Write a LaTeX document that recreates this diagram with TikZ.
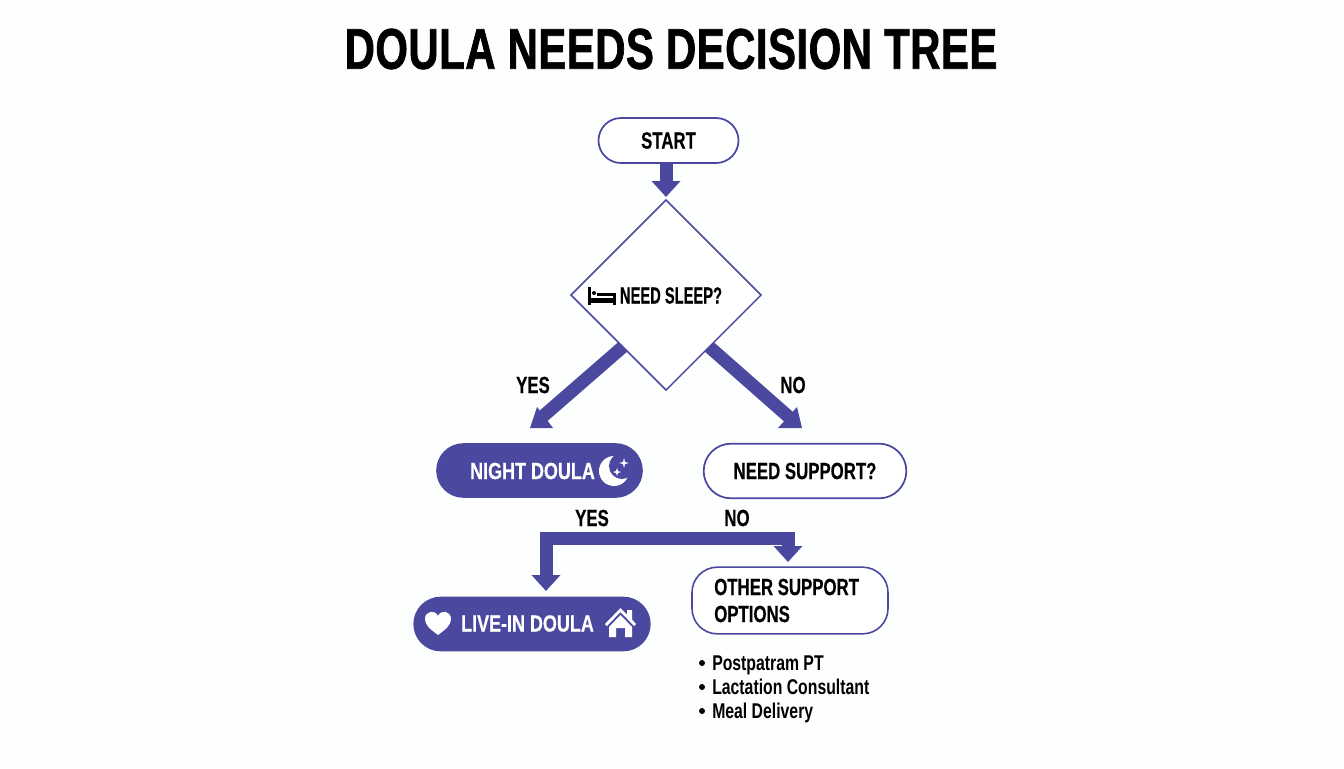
\documentclass[tikz,border=0pt]{standalone}
\usepackage{fontspec}
\usetikzlibrary{arrows.meta,backgrounds,shapes.geometric,shapes.misc}
\setmainfont{Liberation Sans}
\newfontfamily\titlebold[FakeStretch=0.73,FakeBold=1.2,LetterSpace=0.9]{Liberation Sans Bold}
\newfontfamily\narrowbold[FakeStretch=0.72,FakeBold=0.4]{Liberation Sans Bold}
\newfontfamily\slimbold[FakeStretch=0.63,FakeBold=0.4]{Liberation Sans Bold}
\newfontfamily\widebold[FakeStretch=0.77,FakeBold=0.4]{Liberation Sans Bold}
\newfontfamily\narrowlist[FakeStretch=0.74]{Liberation Sans Bold}
\definecolor{doulapurple}{RGB}{75,72,160}
\definecolor{pagewhite}{RGB}{253,254,254}
\tikzset{
  titletext/.style={font=\titlebold\fontsize{43}{48}\selectfont,text=black},
  flowtext/.style={font=\narrowbold\fontsize{17.5}{21}\selectfont,text=black},
  listtext/.style={anchor=base west,inner sep=0pt,font=\narrowlist\fontsize{16}{18}\selectfont},
  outlinepill/.style={rounded rectangle,draw=doulapurple,fill=white,line width=1.3pt,inner sep=0pt},
  filledpill/.style={rounded rectangle,fill=doulapurple,inner sep=0pt,text=white},
  flowarrow/.style={draw=doulapurple,line width=9.75pt,-{Triangle[width=21pt,length=12pt]}},
  flowbar/.style={draw=doulapurple,line width=9.75pt}
}
\begin{document}
\begin{tikzpicture}[x=0.75pt,y=-0.75pt]
\useasboundingbox (0,0) rectangle (1344,768);
\node[titletext] (title) at (671,49) {DOULA NEEDS DECISION TREE};
\begin{scope}[every node/.append style={flowtext}]
    \node[outlinepill,minimum width=105pt,minimum height=33.75pt] (start) at (668.5,140.5) {START};
    \node[diamond,draw=doulapurple,fill=white,line width=1.1pt,inner sep=0pt,minimum width=143pt,minimum height=143pt] (sleep) at (666,295) {};
    \node[font=\slimbold\fontsize{17.5}{21}\selectfont] (sleeplabel) at (671,295.5) {NEED SLEEP?};
    \node[filledpill,minimum width=155pt,minimum height=41pt] (night) at (539.5,470.5) {};
    \node[text=white,font=\widebold\fontsize{17.5}{21}\selectfont] (nightlabel) at (532.5,471) {NIGHT DOULA};
    \node[outlinepill,minimum width=152pt,minimum height=41pt] (support) at (805,471) {NEED SUPPORT?};
    \node[filledpill,minimum width=178pt,minimum height=41pt] (livein) at (532,624) {};
    \node[text=white,font=\widebold\fontsize{17.5}{21}\selectfont] (liveinlabel) at (527.5,623.5) {LIVE-IN DOULA};
    \node[draw=doulapurple,fill=white,line width=1.2pt,rounded corners=19pt,minimum width=147pt,minimum height=50pt] (other) at (790,600.5) {};
    \node[anchor=west,align=left,inner sep=0pt,font=\narrowbold\fontsize{17.5}{20.25}\selectfont] (otherlabel) at (714,600.5) {OTHER SUPPORT\\OPTIONS};
    \node (yesleft) at (533,385) {YES};
    \node (noright) at (793,385) {NO};
    \node (yeslower) at (592,518) {YES};
    \node (nolower) at (737,518) {NO};
\end{scope}
\node[listtext] (extraa) at (712,670) {Postpatram PT};
\node[listtext] (extrab) at (712,694) {Lactation Consultant};
\node[listtext] (extrac) at (712,718) {Meal Delivery};
\fill[black] (702,663) circle (3);
\fill[black] (702,687) circle (3);
\fill[black] (702,711) circle (3);
\coordinate (sleeptip) at (666,197);
\coordinate (yesneck) at (541,418);
\coordinate (noneck) at (790,418);
\coordinate (fork) at (667,538);
\coordinate (liveintip) at (546,591);
\coordinate (othertip) at (788,562);
\begin{scope}[on background layer]
    \fill[pagewhite] (0,0) rectangle (1344,768);
    \draw[flowarrow] (sleeptip |- start.south) -- (sleeptip);
    \draw[flowbar,shorten <=-6pt] ([xshift=3pt,yshift=-3.4pt]sleep.south west) -- (yesneck);
    \draw[flowbar,shorten <=-6pt] ([xshift=-3pt,yshift=-3.4pt]sleep.south east) -- (noneck);
    \fill[doulapurple] (530,428) -- (553,428) -- (537,407) -- cycle;
    \fill[doulapurple] (802,428) -- (778,428) -- (797,407) -- cycle;
    \draw[flowarrow] (fork) -| (liveintip);
    \draw[flowarrow] (fork) -| (othertip);
\end{scope}
% bed
\fill[black] (588,287) rectangle (591,305);
\fill[black] (588,297.5) rectangle (615.5,302.5);
\fill[black] (613,293) rectangle (615.5,305);
\fill[black] (597,292.5) rectangle (613,296);
\fill[black] (594,293) circle (2);
% moon
\fill[white] (614,471) circle (15);
\fill[doulapurple] (622,466) circle (13);
\fill[white] (624,458) -- (625,462) -- (629,463) -- (625,464) -- (624,468) -- (623,464) -- (619,463) -- (623,462) -- cycle;
\fill[white] (617,468) -- (618,471) -- (621,472) -- (618,473) -- (617,476) -- (616,473) -- (613,472) -- (616,471) -- cycle;
% heart
\fill[white] (438,635) .. controls (430,629) and (425,625) .. (425,619) .. controls (425,611) and (435,609) .. (438,616) .. controls (441,609) and (451,611) .. (451,619) .. controls (451,625) and (446,629) .. (438,635) -- cycle;
% house
\fill[white] (605,624) -- (620.5,608) -- (627,614.5) -- (627,610) -- (632,610) -- (632,619.5) -- (636,624) -- (634,626) -- (620.5,612) -- (607,626) -- cycle;
\fill[white] (620.5,615) -- (632,627) -- (632,637) -- (625,637) -- (625,628) -- (616,628) -- (616,637) -- (609,637) -- (609,627) -- cycle;
\end{tikzpicture}
\end{document}
